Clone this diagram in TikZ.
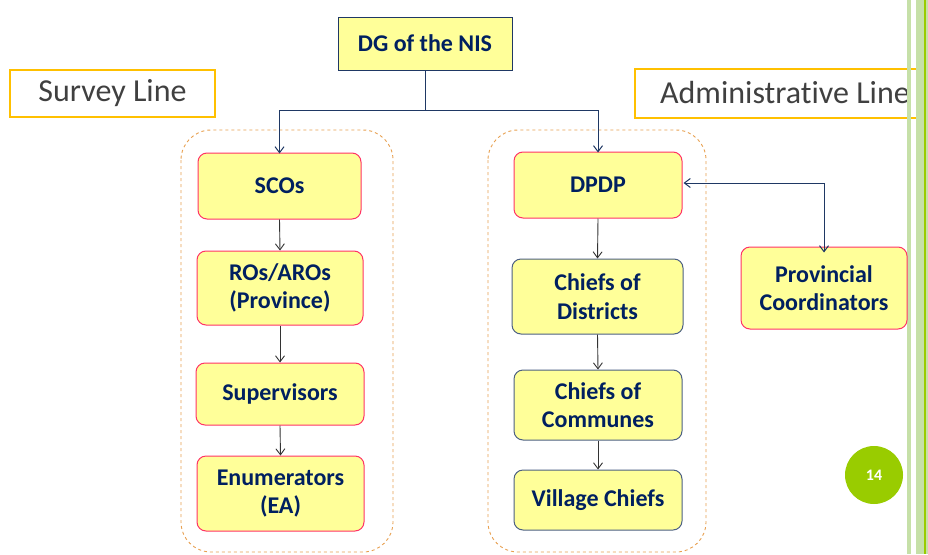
\documentclass[tikz,border=0pt]{standalone}
\usepackage{fontspec}
\setmainfont{Carlito}[Ligatures=NoCommon]
\usetikzlibrary{arrows.meta}
\definecolor{boxfill}{HTML}{FFFF99}
\definecolor{navy}{HTML}{1F3864}
\definecolor{txt}{HTML}{002060}
\definecolor{pinkb}{HTML}{FF3366}
\definecolor{orangeb}{HTML}{FFC000}
\definecolor{dashc}{HTML}{E8A050}
\definecolor{lgreen}{HTML}{C6E0A8}
\definecolor{dgreen}{HTML}{99CC00}
\definecolor{greytxt}{HTML}{404040}
\begin{document}
\begin{tikzpicture}[x=1pt,y=-1pt,
  box/.style={draw, fill=boxfill, rounded corners=9pt, line width=1pt, text=txt,
    font=\fontsize{24}{28.5}\selectfont\bfseries, align=center, inner sep=0pt},
  pinkbox/.style={box, draw=pinkb},
  navybox/.style={box, draw=navy!80},
  linebox/.style={draw=orangeb, line width=2pt, fill=white, text=greytxt,
    font=\fontsize{32}{36}\selectfont, inner sep=0pt},
  grp/.style={draw=dashc, dashed, line width=0.9pt, rounded corners=30pt},
  arr/.style={-{Straight Barb[length=6pt,width=9pt]}, line width=0.9pt, draw=black!80},
  narr/.style={-{Straight Barb[length=6pt,width=9pt]}, line width=1pt, draw=navy}
]
\useasboundingbox (0,0) rectangle (928,554);
\fill[white] (0,0) rectangle (928,554);
% dashed groups
\draw[grp] (181,130) rectangle (393,552);
\draw[grp] (488,130) rectangle (706,552);
% top node
\node[draw=navy, fill=boxfill, line width=1pt, text=txt, font=\fontsize{24}{28}\selectfont\bfseries,
  minimum width=174pt, minimum height=53pt, inner sep=0pt] (dg) at (425,43.5) {DG of the NIS};
% line labels
\node[linebox, minimum width=205pt, minimum height=47pt] (survey) at (112.5,93.5) {Survey Line};
\node[linebox, minimum width=300pt, minimum height=49pt, anchor=west] (admin) at (634,93) {Administrative Line};
% right green bars
\fill[lgreen] (907,0) rectangle (911,554);
\fill[lgreen] (916,0) rectangle (923.5,554);
\fill[dgreen] (923.5,0) rectangle (925.5,554);
\fill[lgreen] (925.5,0) rectangle (928,554);
% survey line boxes
\node[pinkbox, minimum width=163pt, minimum height=66pt] (sco) at (279.5,186) {SCOs};
\node[pinkbox, minimum width=166pt, minimum height=74pt] (ro) at (280,288) {ROs/AROs\\(Province)};
\node[pinkbox, minimum width=168pt, minimum height=62pt] (sup) at (280,394) {Supervisors};
\node[pinkbox, minimum width=167pt, minimum height=75pt] (enu) at (280.5,493.5) {Enumerators\\(EA)};
% administrative boxes
\node[pinkbox, minimum width=168pt, minimum height=66pt] (dpdp) at (598,185) {DPDP};
\node[navybox, minimum width=171pt, minimum height=75pt] (cod) at (597.5,296.5) {Chiefs of\\Districts};
\node[navybox, minimum width=168pt, minimum height=70pt] (coc) at (598,405) {Chiefs of\\Communes};
\node[navybox, minimum width=168pt, minimum height=60pt] (vc) at (598,500) {Village Chiefs};
\node[pinkbox, minimum width=166pt, minimum height=82pt] (pc) at (824,288) {Provincial\\Coordinators};
% page number
\node[circle, fill=dgreen, minimum size=58pt, text=white, font=\fontsize{16}{18}\selectfont\bfseries, inner sep=0pt] (pg) at (874,475) {14};
% connectors
\coordinate (hj) at (425,110.7);
\draw[narr] (dg.south) -- (hj) -| ([yshift=-1pt]sco.north);
\draw[narr] (hj) -| ([yshift=-1pt]dpdp.north);
\draw[arr] (sco.south) -- (ro.north);
\draw[arr] (ro.south) -- (sup.north);
\draw[arr] (sup.south) -- (enu.north);
\draw[arr] (dpdp.south) -- (cod.north);
\draw[arr] (cod.south) -- (coc.north);
\draw[arr] (coc.south) -- (vc.north);
\coordinate (pcj) at (824,183);
\draw[narr, {Straight Barb[length=6pt,width=9pt]}-{Straight Barb[length=6pt,width=9pt]}] ([xshift=1pt]dpdp.east |- pcj) -- (pcj) -- ([yshift=-6pt]pc.north);
\end{tikzpicture}
\end{document}
